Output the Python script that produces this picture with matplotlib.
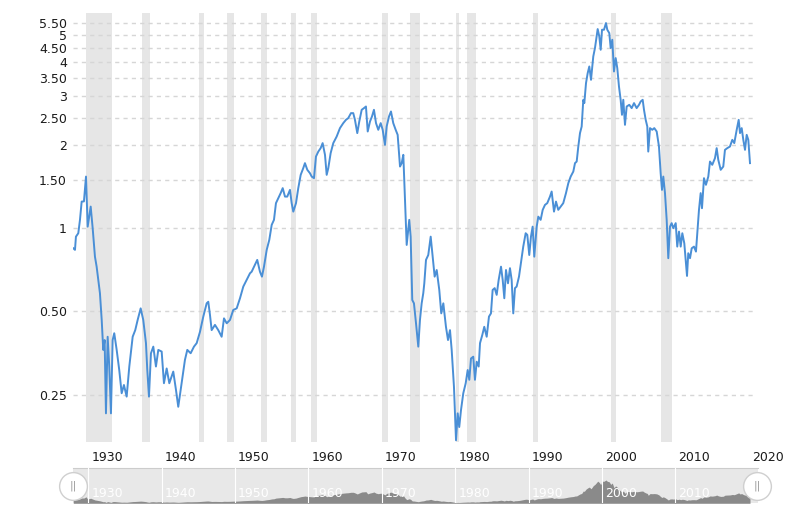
import numpy as np
import matplotlib.pyplot as plt
from matplotlib import transforms
from matplotlib.ticker import FixedLocator, FixedFormatter, NullLocator

# valores (fecha decimal, razon)
anios = [
    1927.96, 1928.19, 1928.32, 1928.64, 1928.87, 1929.10, 1929.41, 1929.69, 1929.92, 1930.33,
    1930.60, 1930.91, 1931.14, 1931.36, 1931.59, 1931.83, 1932.04, 1932.23, 1932.41, 1932.64,
    1932.86, 1933.09, 1933.32, 1933.54, 1933.87, 1934.22, 1934.55, 1934.86, 1935.23, 1935.59,
    1936.05, 1936.40, 1936.73, 1937.14, 1937.49, 1937.86, 1938.04, 1938.27, 1938.54, 1938.86,
    1939.22, 1939.54, 1940.00, 1940.31, 1940.68, 1941.04, 1941.58, 1941.95, 1942.26, 1942.72,
    1943.17, 1943.49, 1943.95, 1944.40, 1944.77, 1945.22, 1945.67, 1946.13, 1946.35, 1946.58,
    1946.81, 1947.26, 1947.71, 1948.17, 1948.49, 1948.86, 1949.31, 1949.75, 1950.22, 1950.67,
    1951.12, 1951.58, 1952.03,
    1952.26, 1952.71, 1953.02, 1953.39, 1953.66, 1953.94, 1954.31, 1954.66, 1954.99, 1955.30,
    1955.57, 1955.89, 1956.21, 1956.49, 1956.80, 1957.11, 1957.48, 1957.71, 1957.93, 1958.30,
    1958.61, 1958.94, 1959.29, 1959.52, 1959.84, 1960.20, 1960.44, 1960.75, 1961.02, 1961.34,
    1961.66, 1961.93, 1962.25, 1962.48, 1962.70, 1963.02, 1963.38, 1963.84, 1964.29, 1964.74,
    1965.11, 1965.42, 1965.79, 1966.10, 1966.33, 1966.65, 1966.92, 1967.25, 1967.56, 1967.83,
    1968.07, 1968.38, 1968.65, 1968.92, 1969.20, 1969.51, 1969.84, 1970.11, 1970.42, 1970.65,
    1970.97, 1971.24, 1971.55, 1971.88, 1972.15, 1972.47, 1972.70, 1972.92,
    1973.15, 1973.38, 1973.73, 1973.92, 1974.14, 1974.37, 1974.65, 1974.96, 1975.19, 1975.42,
    1975.64, 1975.78, 1976.01, 1976.32, 1976.65, 1976.92, 1977.19, 1977.47, 1977.82, 1978.09,
    1978.37, 1978.73, 1979.01, 1979.28, 1979.51, 1979.82, 1980.10, 1980.33, 1980.54, 1980.78,
    1981.09, 1981.42, 1981.69, 1981.91, 1982.14, 1982.45, 1982.68, 1982.92, 1983.19, 1983.37,
    1983.68, 1983.95, 1984.28, 1984.59, 1984.86, 1985.09, 1985.37, 1985.64, 1985.91, 1986.23,
    1986.46, 1986.68, 1986.91, 1987.18, 1987.45, 1987.68, 1987.90, 1988.13, 1988.36, 1988.68,
    1988.91, 1989.26, 1989.59, 1989.81, 1990.08, 1990.31, 1990.54, 1990.76, 1991.09, 1991.31,
    1991.63, 1991.91, 1992.22, 1992.53, 1992.90, 1993.13, 1993.45, 1993.72, 1994.03, 1994.36,
    1994.71, 1995.08, 1995.40, 1995.72, 1996.08,
    1996.31, 1996.54, 1996.76, 1996.99, 1997.22, 1997.44, 1997.58, 1997.81, 1998.04, 1998.26,
    1998.49, 1998.67, 1998.80, 1999.03, 1999.26, 1999.40, 1999.62, 1999.81, 1999.99, 2000.26,
    2000.53, 2000.71, 2000.98, 2001.17, 2001.39, 2001.62, 2001.85, 2002.07, 2002.30, 2002.53,
    2002.71, 2002.89, 2003.12, 2003.35, 2003.71, 2004.03, 2004.35, 2004.71, 2005.03, 2005.26,
    2005.53, 2005.71, 2005.94, 2006.16, 2006.29, 2006.53, 2006.84, 2007.11, 2007.44, 2007.75,
    2007.98, 2008.16, 2008.34, 2008.57, 2008.80, 2009.02, 2009.25, 2009.48, 2009.70, 2010.03,
    2010.24, 2010.48, 2010.71, 2010.93, 2011.20, 2011.43, 2011.57, 2011.74, 2011.98, 2012.21,
    2012.52, 2012.79, 2012.97, 2013.20, 2013.43, 2013.61, 2013.88, 2014.15, 2014.47, 2014.70,
    2015.01, 2015.38, 2015.61, 2015.83, 2016.16, 2016.51, 2016.74, 2017.06, 2017.42, 2017.74,
    2018.01, 2018.34, 2018.61, 2018.79, 2019.02, 2019.24, 2019.47, 2019.70, 2019.92, 2020.15,
]
razon = [
    0.846, 0.835, 0.932, 0.959, 1.072, 1.248, 1.25, 1.537, 1.013, 1.197,
    1.0, 0.789, 0.726, 0.650, 0.582, 0.466, 0.363, 0.394, 0.214, 0.405,
    0.316, 0.214, 0.394, 0.417, 0.363, 0.307, 0.253, 0.271, 0.246, 0.316,
    0.405, 0.428, 0.466, 0.513, 0.466, 0.384, 0.307, 0.246, 0.353, 0.373,
    0.316, 0.363, 0.358, 0.275, 0.311, 0.275, 0.303, 0.260, 0.226, 0.275,
    0.334, 0.363, 0.353, 0.373, 0.384, 0.422, 0.479, 0.535, 0.542, 0.486,
    0.428, 0.447, 0.428, 0.405, 0.472, 0.453, 0.466, 0.506, 0.513, 0.558,
    0.615, 0.650, 0.687,
    0.696, 0.737, 0.768, 0.696, 0.668, 0.726, 0.835, 0.907, 1.028, 1.072,
    1.232, 1.284, 1.339, 1.396, 1.301, 1.301, 1.376, 1.232, 1.148, 1.232,
    1.396, 1.559, 1.649, 1.719, 1.626, 1.581, 1.537, 1.517, 1.816, 1.893,
    1.948, 2.031, 1.842, 1.559, 1.649, 1.868, 2.031, 2.145, 2.301, 2.399,
    2.466, 2.501, 2.607, 2.607, 2.466, 2.207, 2.431, 2.680, 2.718, 2.755,
    2.237, 2.431, 2.535, 2.680, 2.399, 2.269, 2.399, 2.269, 2.002, 2.332,
    2.535, 2.643, 2.399, 2.269, 2.176, 1.671, 1.719, 1.842,
    1.266, 0.870, 1.072, 0.932, 0.550, 0.535, 0.453, 0.373, 0.466, 0.535,
    0.582, 0.632, 0.768, 0.800, 0.932, 0.789, 0.668, 0.706, 0.598, 0.492,
    0.535, 0.440, 0.394, 0.428, 0.363, 0.267, 0.171, 0.214, 0.191, 0.220,
    0.253, 0.275, 0.307, 0.283, 0.338, 0.343, 0.283, 0.329, 0.316, 0.384,
    0.411, 0.440, 0.405, 0.479, 0.492, 0.598, 0.607, 0.574, 0.650, 0.726,
    0.650, 0.558, 0.706, 0.632, 0.717, 0.650, 0.492, 0.607, 0.615, 0.668,
    0.737, 0.858, 0.959, 0.946, 0.800, 0.932, 1.013, 0.789, 1.013, 1.101,
    1.072, 1.165, 1.214, 1.232, 1.301, 1.357, 1.148, 1.248, 1.165, 1.197,
    1.232, 1.339, 1.455, 1.537, 1.603,
    1.719, 1.742, 1.974, 2.207, 2.332, 2.913, 2.834, 3.348, 3.639, 3.845,
    3.441, 3.845, 4.179, 4.482, 4.937, 5.250, 4.937, 4.419, 5.220, 5.220,
    5.520, 5.220, 5.078, 4.482, 4.802, 3.688, 4.124, 3.793, 3.254, 2.913,
    2.571, 2.913, 2.365, 2.755, 2.794, 2.718, 2.834, 2.718, 2.794, 2.872,
    2.913, 2.680, 2.466, 2.332, 1.893, 2.301, 2.269, 2.301, 2.237, 1.974,
    1.581, 1.376, 1.537, 1.339, 1.072, 0.779, 1.013, 1.043, 1.0, 1.043,
    0.858, 0.972, 0.858, 0.959, 0.882, 0.747, 0.672, 0.812, 0.779, 0.846,
    0.858, 0.823, 0.959, 1.165, 1.339, 1.181, 1.517, 1.435, 1.537, 1.742,
    1.695, 1.792, 1.948, 1.767, 1.626, 1.671, 1.920, 1.948, 1.974, 2.087,
    2.031, 2.269, 2.466, 2.207, 2.301, 2.087, 1.920, 2.176, 2.087, 1.719,
]

# recesiones (NBER)
recesion_inicio = [1929.67, 1937.37, 1945.12, 1948.87, 1953.54, 1957.62, 1960.29,
                   1969.96, 1973.87, 1980.04, 1981.54, 1990.54, 2001.21, 2007.96]
recesion_fin = [1933.21, 1938.46, 1945.79, 1949.79, 1954.38, 1958.29, 1961.12,
                1970.87, 1975.21, 1980.54, 1982.87, 1991.21, 2001.87, 2009.46]

ticks_y = [0.25, 0.5, 1, 1.5, 2, 2.5, 3, 3.5, 4, 4.5, 5, 5.5]
etiquetas_y = ['0.25', '0.50', '1', '1.50', '2', '2.50', '3', '3.50', '4', '4.50', '5', '5.50']
ticks_x = list(range(1930, 2021, 10))
ticks_nav = list(range(1930, 2011, 10))

fig = plt.figure(figsize=(8, 5.21), dpi=100)

# grafico principal
ax = fig.add_axes([0.09125, 0.1522, 0.85, 0.8228])
for a, b in zip(recesion_inicio, recesion_fin):
    ax.axvspan(a, b, color='#e6e6e6', lw=0, zorder=0)
ax.plot(anios, razon, color='#4a8fd6', lw=1.4, zorder=3)
ax.set_yscale('log')
ax.set_ylim(0.169, 6.0)
ax.set_xlim(1927.92, 2020.56)
ax.yaxis.set_major_locator(FixedLocator(ticks_y))
ax.yaxis.set_major_formatter(FixedFormatter(etiquetas_y))
ax.yaxis.set_minor_locator(NullLocator())
ax.set_xticks(ticks_x)
ax.set_xticklabels([str(t) for t in ticks_x])
ax.grid(axis='y', color='#d6d6d6', lw=1.0, linestyle=(0, (3, 3)))
ax.tick_params(length=0, labelsize=9, colors='#1a1a1a')
ax.tick_params(axis='x', pad=7)
ax.tick_params(axis='y', pad=4.5)
desplazamiento = transforms.ScaledTranslation(3 / 100, 0, fig.dpi_scale_trans)
for lbl in ax.get_xticklabels():
    lbl.set_horizontalalignment('left')
    lbl.set_transform(lbl.get_transform() + desplazamiento)
for s in ax.spines.values():
    s.set_visible(False)

# navegador
nav = fig.add_axes([0.09125, 0.034, 0.85625, 0.0672])
nav.set_facecolor('#e8e8e8')
nav.fill_between(anios, razon, 0, color='#8a8a8a', lw=0, zorder=2)
nav.set_xlim(1927.92, 2021.24)
nav.set_ylim(0, 8.3)
mezcla = transforms.blended_transform_factory(nav.transData, nav.transAxes)
for t in ticks_nav:
    nav.axvline(t, color='white', lw=0.8, zorder=3)
    nav.text(t, 0.28, str(t), color='white', fontsize=9, va='center', ha='left',
             transform=mezcla + desplazamiento, zorder=4)
nav.set_xticks([])
nav.set_yticks([])
for nombre, s in nav.spines.items():
    s.set_visible(nombre == 'top')
nav.spines['top'].set_color('#cccccc')
nav.spines['top'].set_linewidth(0.8)

# asas del navegador
for xa in [0.0, 0.9985]:
    nav.scatter([xa], [0.49], s=400, transform=nav.transAxes, facecolor='white',
                edgecolor='#cfcfcf', lw=1, zorder=10, clip_on=False)
    nav.text(xa, 0.49, '||', transform=nav.transAxes, color='#9a9a9a', fontsize=8,
             ha='center', va='center', zorder=11, clip_on=False)

plt.savefig('out.png', dpi=100)
